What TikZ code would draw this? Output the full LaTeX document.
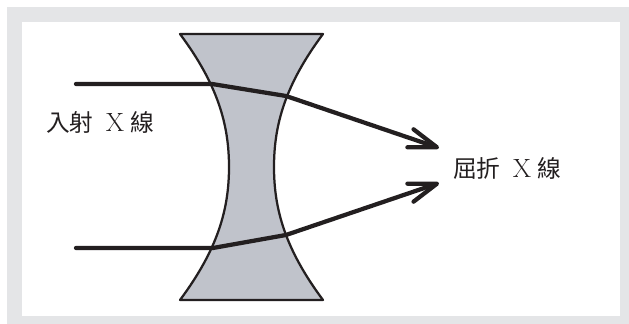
\documentclass[tikz,border=0pt]{standalone}
\usepackage{fontspec}
\usepackage{tikz}
\usetikzlibrary{arrows.meta}
\newfontfamily\cjk{Noto Sans CJK TC}
\definecolor{framegray}{HTML}{E4E5E7}
\definecolor{lensgray}{HTML}{C0C3CB}
\definecolor{inkgray}{HTML}{231F20}
\tikzset{
    lens/.style={draw=inkgray,fill=lensgray,line width=0.45mm,line join=round},
    ray/.style={draw=inkgray,line width=0.85mm,line cap=round,line join=round},
    rayarrow/.style={ray,-{Straight Barb[length=5.6mm,width=3.8mm,line width=0.85mm,round]}},
    xraytext/.style={inner sep=0pt,text=inkgray,font=\fontsize{13.5pt}{15pt}\selectfont}
}

\begin{document}
\begin{tikzpicture}[line width=0.45mm]
    \useasboundingbox (0,0) rectangle (12.58,6.48);
    \fill[framegray] (0.14,0) rectangle (12.58,6.34);
    \fill[white] (0.44,0.16) rectangle (12.40,6.04);

    % lens
    \draw[lens] (3.6,5.8) .. controls (4.36,4.78) and (4.58,3.98) .. (4.58,3.14)
        .. controls (4.58,2.3) and (4.36,1.5) .. (3.6,0.48) -- (6.46,0.48)
        .. controls (5.7,1.5) and (5.48,2.3) .. (5.48,3.14)
        .. controls (5.48,3.98) and (5.7,4.78) .. (6.46,5.8) -- cycle;

    \coordinate (inUp) at (1.52,4.80);
    \coordinate (hitUp) at (4.24,4.80);
    \coordinate (outUp) at (5.72,4.56);
    \coordinate (tipUp) at (8.78,3.52);
    \coordinate (inDown) at (1.52,1.52);
    \coordinate (hitDown) at (4.26,1.52);
    \coordinate (outDown) at (5.72,1.78);
    \coordinate (tipDown) at (8.78,2.82);

    \draw[rayarrow] (inUp) -- (hitUp) -- (outUp) -- (tipUp); %upper
    \draw[rayarrow] (inDown) -- (hitDown) -- (outDown) -- (tipDown); %lower

    \node[xraytext] (incident) at (2.0,4.04) {{\cjk 入射}\hspace{7pt}{\fontsize{15pt}{15pt}\selectfont X}\hspace{3.5pt}{\cjk 線}};
    \node[xraytext] (refracted) at (10.14,3.12) {{\cjk 屈折}\hspace{7pt}{\fontsize{15pt}{15pt}\selectfont X}\hspace{3.5pt}{\cjk 線}};
\end{tikzpicture}
\end{document}
